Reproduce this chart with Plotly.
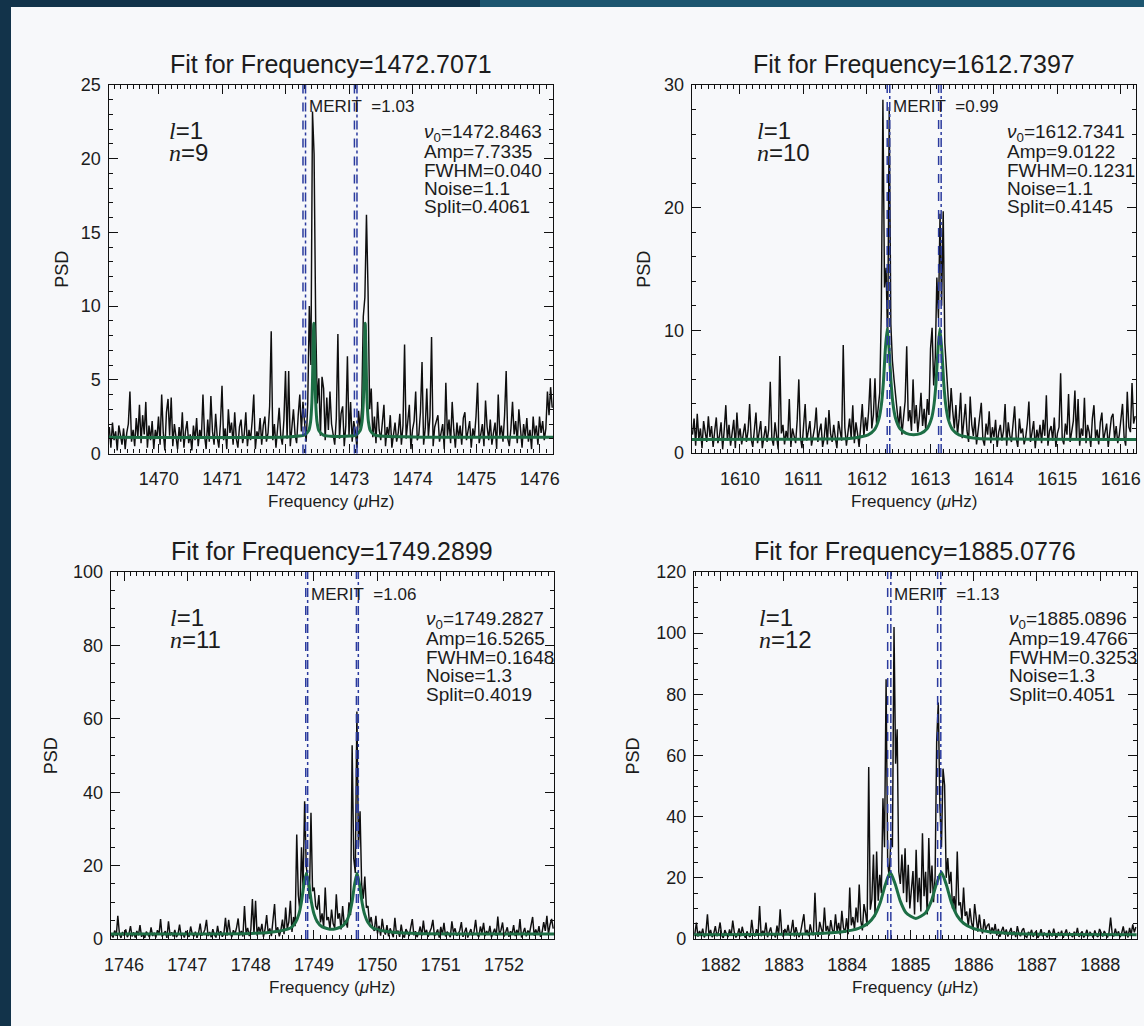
import plotly.graph_objects as go

# ------------------------------------------------------------------ data
title_freqs = [1472.7071, 1612.7397, 1749.2899, 1885.0776]
merit_vals = ["1.03", "0.99", "1.06", "1.13"]
l_degree = [1, 1, 1, 1]
n_order = [9, 10, 11, 12]
nu0_vals = ["1472.8463", "1612.7341", "1749.2827", "1885.0896"]
amp_vals = ["7.7335", "9.0122", "16.5265", "19.4766"]
fwhm_vals = ["0.040", "0.1231", "0.1648", "0.3253"]
noise_vals = ["1.1", "1.1", "1.3", "1.3"]
split_vals = ["0.4061", "0.4145", "0.4019", "0.4051"]
y_max = [25, 30, 100, 120]
y_major = [5, 10, 20, 20]
y_minor = [1, 2, 5, 5]
half_window = 3.5
bin_width = 0.025

psd_1 = [
    1.8, 0.4, 2.1, 0.9, 1.5, 0.2, 1.9, 1.2, 0.6, 1.7, 0.3, 1.4, 2.0, 4.2, 0.8, 1.6, 0.5, 2.4, 1.1, 3.3,
    0.7, 2.6, 1.3, 3.5, 0.4, 1.9, 0.9, 2.2, 0.3, 1.6, 1.0, 2.5, 0.6, 4.0, 1.4, 0.2, 2.8, 3.7, 1.2, 3.8,
    0.5, 2.0, 1.1, 0.3, 1.8, 0.8, 2.8, 0.4, 1.5, 2.2, 0.7, 1.3, 0.2, 1.9, 0.9, 2.4, 0.5, 1.6, 1.0, 4.0,
    1.2, 0.3, 2.3, 0.8, 3.9, 1.5, 0.6, 2.7, 1.1, 0.4, 2.0, 4.6, 0.9, 1.7, 0.3, 3.0, 1.4, 2.1, 0.6, 2.8,
    1.0, 0.4, 1.8, 2.3, 0.7, 1.3, 2.8, 0.5, 1.6, 0.9, 2.2, 4.0, 0.3, 1.5, 1.1, 2.4, 0.6, 1.9, 2.5, 0.8,
    1.4, 3.2, 8.3, 0.9, 2.0, 0.4, 1.7, 3.1, 1.2, 0.6, 2.3, 5.6, 1.0, 5.6, 0.5, 1.8, 3.0, 1.3, 0.7, 2.6,
    4.0, 1.5, 3.5, 2.1, 0.8, 3.3, 10.0, 6.0, 23.2, 20.3, 9.0, 3.4, 5.1, 1.2, 5.2, 4.4, 0.9, 3.8, 1.6, 4.2,
    2.0, 1.3, 0.6, 2.4, 8.1, 1.0, 2.7, 3.2, 0.5, 1.9, 6.6, 1.2, 3.5, 0.8, 2.2, 1.5, 0.4, 2.9, 1.7, 3.1,
    9.3, 10.6, 16.2, 11.0, 3.0, 4.4, 1.1, 2.5, 0.7, 3.5, 1.6, 0.9, 2.3, 3.3, 0.5, 1.8, 1.2, 2.6, 0.4, 1.5,
    2.1, 0.8, 1.4, 2.7, 0.6, 1.9, 7.4, 1.0, 2.4, 3.3, 0.3, 1.6, 2.2, 4.2, 0.9, 1.3, 2.8, 6.2, 0.6, 1.7,
    4.4, 1.1, 2.5, 7.9, 0.5, 1.8, 2.2, 2.6, 0.8, 1.4, 2.0, 0.3, 4.8, 1.2, 2.3, 0.7, 3.5, 1.6, 0.4, 2.1,
    1.0, 1.9, 0.6, 2.4, 2.8, 0.9, 1.5, 2.2, 0.4, 1.7, 1.1, 2.5, 4.8, 0.7, 1.3, 2.0, 0.5, 3.6, 1.8, 0.9,
    2.3, 0.6, 1.4, 2.1, 0.3, 4.0, 1.2, 1.9, 0.8, 2.6, 5.6, 1.0, 0.5, 1.7, 3.5, 1.3, 2.2, 0.7, 3.0, 1.5,
    0.4, 2.0, 1.1, 2.4, 0.8, 1.6, 0.3, 2.5, 1.2, 1.9, 0.6, 2.5, 1.4, 2.2, 0.9, 1.7, 4.2, 2.6, 4.5, 3.1,
]
psd_2 = [
    1.5, 2.8, 0.6, 3.2, 1.1, 2.0, 0.4, 2.6, 1.7, 0.9, 3.0, 1.3, 2.2, 0.5, 1.8, 2.9, 0.8, 1.4, 2.5, 0.3,
    1.9, 3.9, 1.0, 2.3, 0.6, 1.6, 2.7, 0.4, 3.3, 1.2, 2.0, 0.7, 1.5, 2.4, 0.9, 1.8, 4.0, 1.1, 0.5, 2.1,
    3.3, 0.8, 1.7, 2.6, 0.4, 1.3, 2.2, 0.9, 1.9, 5.8, 1.2, 0.6, 2.5, 1.4, 0.3, 7.9, 1.6, 2.3, 0.7, 1.8,
    1.1, 4.4, 0.5, 2.0, 1.5, 0.8, 2.7, 6.0, 1.3, 0.4, 2.2, 4.0, 1.0, 1.7, 2.6, 0.6, 1.4, 2.1, 3.7, 0.9,
    1.8, 2.4, 0.5, 1.2, 2.9, 0.7, 3.5, 1.6, 0.9, 2.3, 1.3, 0.4, 2.6, 1.9, 1.0, 8.8, 2.1, 0.6, 1.5, 2.8,
    1.2, 3.9, 0.8, 2.5, 1.6, 0.5, 2.2, 4.0, 1.3, 2.9, 1.8, 3.4, 6.1, 2.0, 3.1, 6.1, 2.4, 3.6, 4.9, 11.6,
    28.8, 13.5, 15.1, 9.0, 28.2, 10.5, 7.5, 6.0, 4.5, 3.2, 2.1, 3.8, 1.5, 2.9, 4.2, 8.7, 2.6, 3.5, 1.8, 6.0,
    2.4, 3.9, 1.7, 3.0, 4.9, 2.2, 3.6, 1.9, 4.4, 3.1, 8.5, 10.2, 5.5, 7.8, 14.3, 11.0, 19.5, 12.0, 19.7, 9.0,
    6.3, 4.8, 2.7, 5.3, 3.4, 2.0, 3.9, 1.5, 2.8, 4.9, 1.2, 2.5, 4.0, 1.8, 0.9, 4.6, 2.3, 1.4, 2.9, 0.7,
    1.9, 2.6, 4.1, 1.1, 0.6, 2.4, 1.5, 3.4, 0.8, 2.1, 1.3, 2.7, 0.5, 1.7, 2.3, 1.0, 1.8, 4.0, 0.6, 2.5,
    1.4, 0.9, 2.2, 3.8, 1.2, 0.5, 2.8, 1.6, 2.0, 0.7, 1.3, 2.4, 4.2, 0.9, 1.7, 2.6, 0.4, 1.9, 1.1, 2.3,
    0.8, 2.7, 1.4, 4.7, 0.6, 1.8, 2.2, 1.0, 2.9, 0.5, 1.6, 2.1, 6.5, 1.2, 0.7, 2.4, 1.5, 4.8, 0.9, 1.9,
    2.6, 5.1, 1.1, 4.4, 0.6, 2.0, 1.4, 4.5, 0.8, 2.3, 1.7, 0.5, 2.8, 3.9, 1.2, 1.9, 0.7, 2.5, 3.3, 1.0,
    1.6, 2.4, 0.5, 1.8, 2.9, 3.2, 1.1, 2.2, 0.8, 1.5, 2.6, 4.0, 1.3, 0.6, 5.0, 2.1, 1.7, 5.7, 2.4, 3.0,
]
psd_3 = [
    1.2, 0.4, 2.3, 0.8, 6.3, 1.5, 0.3, 1.9, 0.9, 2.6, 0.5, 1.4, 3.5, 0.7, 1.8, 0.4, 2.2, 1.0, 3.8, 0.6,
    1.6, 0.3, 2.0, 1.1, 0.5, 3.2, 0.8, 1.7, 0.4, 2.4, 1.2, 5.4, 0.6, 1.5, 2.1, 0.3, 4.8, 1.0, 1.8, 0.7,
    2.5, 0.5, 1.3, 3.9, 0.8, 1.6, 0.4, 2.2, 1.1, 0.6, 3.4, 1.4, 0.7, 2.0, 0.3, 1.7, 4.2, 0.9, 1.5, 2.6,
    5.2, 0.8, 1.9, 0.5, 2.7, 1.2, 0.4, 3.6, 1.0, 2.1, 0.6, 1.5, 5.8, 0.9, 5.2, 1.8, 0.5, 2.4, 1.3, 3.1,
    5.6, 1.0, 2.2, 0.7, 9.0, 1.6, 3.0, 0.8, 2.5, 10.9, 1.4, 10.4, 0.9, 3.3, 1.8, 4.1, 0.6, 2.7, 6.5, 1.5,
    2.9, 0.8, 4.4, 9.5, 1.7, 3.2, 0.7, 2.4, 5.3, 1.3, 8.6, 2.8, 4.6, 10.4, 1.9, 6.0, 3.5, 28.5, 12.0, 7.5,
    25.0, 14.0, 37.5, 20.0, 16.0, 11.0, 34.4, 13.0, 14.0, 9.0, 8.0, 12.0, 4.5, 7.0, 3.2, 14.0, 5.1, 6.0, 2.8, 8.0,
    4.2, 3.0, 12.2, 5.5, 7.0, 2.6, 9.0, 4.0, 5.0, 3.1, 10.0, 6.5, 52.8, 22.0, 18.0, 62.0, 25.0, 34.8, 15.0, 11.0,
    17.0, 8.5, 9.0, 4.2, 6.0, 3.0, 2.2, 6.3, 1.5, 3.6, 0.9, 5.5, 2.4, 1.2, 3.8, 0.7, 2.9, 1.6, 0.5, 5.8,
    1.4, 2.3, 0.6, 3.9, 1.1, 0.4, 2.7, 1.8, 0.8, 3.2, 5.4, 1.0, 2.1, 0.5, 1.6, 3.4, 0.9, 5.0, 1.3, 2.5,
    0.6, 1.9, 3.0, 5.2, 0.8, 1.5, 2.6, 0.4, 3.3, 1.2, 4.4, 0.7, 2.0, 1.4, 0.5, 4.8, 1.7, 2.9, 0.9, 1.3,
    2.4, 4.6, 0.6, 1.8, 3.1, 0.4, 1.5, 2.7, 0.9, 2.0, 5.2, 1.2, 0.5, 3.4, 1.6, 4.4, 0.8, 2.2, 1.1, 3.6,
    0.5, 1.7, 2.8, 0.9, 6.1, 1.3, 2.4, 4.5, 0.7, 1.9, 3.2, 0.6, 2.1, 1.4, 3.8, 0.8, 2.5, 1.1, 5.4, 0.4,
    1.8, 3.0, 0.7, 2.3, 1.5, 4.1, 6.0, 0.9, 2.6, 1.2, 3.5, 0.6, 1.9, 4.6, 2.2, 6.3, 1.3, 3.9, 5.5, 2.8,
]
psd_4 = [
    1.5, 5.4, 0.8, 2.6, 1.2, 3.4, 0.5, 2.0, 8.1, 1.1, 3.0, 0.6, 1.8, 4.2, 0.9, 2.4, 5.4, 1.3, 0.4, 2.9,
    1.7, 0.6, 3.1, 1.0, 6.0, 2.2, 0.5, 1.4, 3.5, 0.9, 4.0, 1.6, 0.4, 2.5, 1.2, 0.7, 6.3, 1.9, 0.8, 3.2,
    1.4, 10.8, 0.9, 2.7, 1.5, 5.4, 0.6, 2.2, 3.8, 1.0, 1.8, 0.5, 4.4, 1.3, 9.7, 2.0, 0.7, 3.3, 1.6, 4.6,
    1.1, 2.6, 6.3, 0.8, 3.9, 1.7, 0.6, 2.4, 5.0, 8.1, 1.4, 3.0, 0.9, 4.8, 2.1, 1.2, 15.1, 2.9, 0.7, 5.6,
    3.4, 1.5, 10.3, 2.6, 4.3, 1.1, 6.2, 3.0, 1.8, 8.1, 2.4, 5.3, 1.3, 9.2, 3.7, 2.0, 6.8, 1.6, 16.8, 4.5,
    7.2, 3.1, 10.3, 5.4, 17.8, 6.0, 2.8, 11.4, 8.5, 4.2, 56.2, 9.6, 13.0, 27.6, 7.4, 28.6, 12.5, 21.0, 15.0, 46.0,
    30.0, 84.9, 25.0, 20.0, 33.0, 30.0, 102.0, 57.3, 68.6, 22.0, 18.0, 27.6, 15.0, 29.7, 12.0, 24.3, 10.0, 18.0, 22.2, 8.0,
    29.2, 12.0, 20.0, 9.0, 34.6, 14.0, 22.0, 8.0, 33.0, 15.0, 24.0, 12.0, 20.5, 64.9, 77.3, 43.8, 30.0, 55.7, 50.3, 20.0,
    26.5, 18.0, 22.0, 10.0, 14.0, 8.5, 28.6, 11.0, 12.0, 6.0, 16.8, 7.5, 9.0, 4.2, 10.0, 5.5, 3.0, 11.4, 6.2, 2.4,
    8.0, 3.5, 1.8, 6.5, 2.9, 4.4, 5.0, 1.6, 3.8, 2.2, 4.9, 1.1, 3.3, 0.7, 2.6, 4.0, 1.4, 3.1, 0.8, 2.0,
    3.6, 1.2, 2.5, 0.6, 4.2, 1.8, 0.9, 2.8, 3.5, 1.0, 0.5, 2.3, 1.5, 3.0, 0.7, 1.9, 2.6, 0.4, 1.3, 3.2,
    0.9, 2.1, 1.4, 0.5, 2.9, 1.7, 0.8, 3.4, 1.2, 0.6, 2.3, 1.0, 2.7, 0.4, 1.6, 3.1, 0.9, 2.0, 1.3, 0.6,
    2.4, 1.1, 3.6, 0.7, 1.8, 2.5, 0.5, 1.4, 3.0, 0.9, 2.2, 1.6, 0.4, 2.8, 1.2, 0.7, 3.3, 1.9, 0.8, 2.6,
    1.3, 0.5, 2.1, 7.0, 1.7, 0.9, 3.4, 1.2, 2.5, 0.6, 1.9, 4.1, 1.0, 2.7, 0.5, 3.6, 1.4, 4.8, 2.2, 3.9,
]

fit_f_1 = [1469.21, 1472.0, 1472.29, 1472.36, 1472.39, 1472.41, 1472.42, 1472.43, 1472.44, 1472.45,
           1472.46, 1472.47, 1472.49, 1472.52, 1472.59, 1472.85, 1473.10, 1473.17, 1473.20, 1473.22,
           1473.23, 1473.24, 1473.25, 1473.26, 1473.27, 1473.28, 1473.30, 1473.33, 1473.40, 1474.0, 1476.21]
fit_p_1 = [1.1, 1.12, 1.24, 1.55, 2.17, 3.48, 4.97, 7.28, 8.83, 7.28,
           4.97, 3.48, 2.17, 1.55, 1.24, 1.15, 1.24, 1.55, 2.17, 3.48,
           4.97, 7.28, 8.83, 7.28, 4.97, 3.48, 2.17, 1.55, 1.24, 1.12, 1.1]
fit_f_2 = [1609.24, 1611.0, 1611.72, 1612.02, 1612.12, 1612.19, 1612.23, 1612.26, 1612.29, 1612.32,
           1612.35, 1612.38, 1612.41, 1612.45, 1612.52, 1612.62, 1612.735, 1612.85, 1612.95, 1613.02,
           1613.06, 1613.09, 1613.12, 1613.15, 1613.18, 1613.21, 1613.24, 1613.28, 1613.35, 1613.45,
           1613.75, 1614.5, 1616.24]
fit_p_2 = [1.11, 1.13, 1.19, 1.48, 1.90, 2.78, 4.0, 5.75, 8.42, 10.15,
           8.45, 5.8, 4.05, 2.85, 2.0, 1.6, 1.49, 1.6, 2.0, 2.85,
           4.05, 5.8, 8.45, 10.15, 8.42, 5.75, 4.0, 2.78, 1.90, 1.48,
           1.19, 1.13, 1.11]
fit_f_3 = [1745.79, 1747.0, 1747.88, 1748.28, 1748.63, 1748.71, 1748.76, 1748.80, 1748.84, 1748.88,
           1748.92, 1748.96, 1749.00, 1749.05, 1749.13, 1749.28, 1749.43, 1749.51, 1749.56, 1749.60,
           1749.64, 1749.68, 1749.72, 1749.76, 1749.80, 1749.85, 1749.93, 1750.28, 1750.68, 1751.6, 1752.79]
fit_p_3 = [1.33, 1.37, 1.45, 1.75, 3.0, 4.55, 6.7, 9.9, 14.75, 18.0,
           14.8, 10.0, 6.85, 4.75, 3.3, 2.64, 3.3, 4.75, 6.85, 10.0,
           14.8, 18.0, 14.75, 9.9, 6.7, 4.55, 3.0, 1.75, 1.45, 1.37, 1.33]
fit_f_4 = [1881.58, 1882.6, 1883.48, 1883.93, 1884.18, 1884.33, 1884.43, 1884.52, 1884.60, 1884.68,
           1884.76, 1884.84, 1884.93, 1885.085, 1885.24, 1885.33, 1885.41, 1885.49, 1885.57, 1885.65,
           1885.74, 1885.84, 1885.99, 1886.24, 1886.69, 1887.49, 1888.58]
fit_p_4 = [1.38, 1.5, 1.75, 2.39, 3.47, 5.16, 7.56, 11.75, 17.6, 21.8,
           17.9, 12.4, 8.6, 6.73, 8.6, 12.4, 17.9, 21.8, 17.6, 11.75,
           7.56, 5.16, 3.47, 2.39, 1.75, 1.5, 1.38]

guide_1 = [1472.27, 1472.31, 1473.08, 1473.12]
guide_2 = [1612.32, 1612.36, 1613.13, 1613.17]
guide_3 = [1748.87, 1748.90, 1749.67, 1749.70]
guide_4 = [1884.64, 1884.69, 1885.43, 1885.48]

psd_all = [psd_1, psd_2, psd_3, psd_4]
fit_f_all = [fit_f_1, fit_f_2, fit_f_3, fit_f_4]
fit_p_all = [fit_p_1, fit_p_2, fit_p_3, fit_p_4]
guide_all = [guide_1, guide_2, guide_3, guide_4]

# ------------------------------------------------------------------ layout geometry (pixels)
W, H = 1144, 1026
boxes = [(108.5, 553.0, 85.0, 453.5),
         (691.7, 1136.0, 85.0, 453.0),
         (110.7, 554.0, 572.0, 939.0),
         (694.0, 1136.7, 572.0, 939.0)]
psd_offset = [46, 48, 60, 62]
ln_offset = [58, 63, 57, 63]

FONT = "Liberation Sans"
TXT = "#1c1c1c"
GREEN = "#1d6e45"
BLUE = "#2b3b9e"


def fx(px):
    return px / W


def fy(py):
    return 1 - py / H


fig = go.Figure()
annotations = []
shapes = [
    dict(type="rect", xref="paper", yref="paper", x0=fx(480), x1=1.0, y0=fy(7), y1=1.0,
         fillcolor="#1d5670", line=dict(width=0), layer="below"),
    dict(type="rect", xref="paper", yref="paper", x0=fx(11), x1=1.0, y0=0.0, y1=fy(7),
         fillcolor="#f7f8fa", line=dict(width=0), layer="below"),
]
layout = {}

for k in range(4):
    sfx = "" if k == 0 else str(k + 1)
    xa, ya = "x" + sfx, "y" + sfx
    left, right, top, bottom = boxes[k]
    c = title_freqs[k]
    lo, hi = c - half_window, c + half_window

    fig.add_trace(go.Scatter(
        y=psd_all[k], x0=lo + bin_width / 2, dx=bin_width, mode="lines",
        line=dict(color="#0e0e0e", width=1.45), xaxis=xa, yaxis=ya, hoverinfo="skip"))
    fig.add_trace(go.Scatter(
        x=fit_f_all[k], y=fit_p_all[k], mode="lines",
        line=dict(color=GREEN, width=3, shape="spline", smoothing=0.6),
        xaxis=xa, yaxis=ya, hoverinfo="skip"))

    for j, g in enumerate(guide_all[k]):
        shapes.append(dict(type="line", xref=xa, yref=ya + " domain", x0=g, x1=g, y0=0, y1=1,
                           line=dict(color=BLUE, width=1.5, dash="dash" if j % 2 == 0 else "dashdot"),
                           layer="above"))

    common = dict(showline=True, linecolor="#111111", linewidth=1.2, mirror="allticks",
                  ticks="inside", ticklen=9, tickwidth=1, tickcolor="#111111",
                  showgrid=False, zeroline=False, automargin=False,
                  tickfont=dict(family=FONT, size=18, color=TXT))
    layout["xaxis" + sfx] = dict(
        common, domain=[fx(left), fx(right)], anchor=ya, range=[lo, hi],
        tick0=0, dtick=1, ticklabelstandoff=9,
        minor=dict(dtick=0.1, tick0=0, ticks="inside", ticklen=4, tickcolor="#111111", showgrid=False))
    layout["yaxis" + sfx] = dict(
        common, domain=[fy(bottom), fy(top)], anchor=xa, range=[0, y_max[k]],
        tick0=0, dtick=y_major[k], ticklabelstandoff=3,
        minor=dict(dtick=y_minor[k], tick0=0, ticks="inside", ticklen=4, tickcolor="#111111", showgrid=False))

    cx = (left + right) / 2
    annotations.append(dict(text="Fit for Frequency=%.4f" % c, x=fx(cx), y=fy(top - 21),
                            xanchor="center", font=dict(family=FONT, size=25, color=TXT)))
    annotations.append(dict(text="Frequency (<i>μ</i>Hz)", x=fx(cx), y=fy(bottom + 48),
                            xanchor="center", font=dict(family=FONT, size=17, color=TXT)))
    annotations.append(dict(text="PSD", textangle=-90, x=fx(left - psd_offset[k]),
                            y=fy((top + bottom) / 2), xanchor="center",
                            font=dict(family=FONT, size=18, color=TXT)))
    gx = left + (guide_all[k][1] - lo) / (hi - lo) * (right - left)
    annotations.append(dict(text="MERIT\u00a0 =" + merit_vals[k], x=fx(gx + 1), y=fy(top + 22),
                            xanchor="left", font=dict(family=FONT, size=17, color=TXT)))
    annotations.append(dict(text="<i style='font-family:Liberation Serif'>l</i>=%d" % l_degree[k],
                            x=fx(left + ln_offset[k]), y=fy(top + 45), xanchor="left",
                            font=dict(family=FONT, size=24, color=TXT)))
    annotations.append(dict(text="<i style='font-family:Liberation Serif'>n</i>=%d" % n_order[k],
                            x=fx(left + ln_offset[k]), y=fy(top + 67), xanchor="left",
                            font=dict(family=FONT, size=24, color=TXT)))
    lines = ["<i>ν</i><sub>0</sub>=" + nu0_vals[k], "Amp=" + amp_vals[k], "FWHM=" + fwhm_vals[k],
             "Noise=" + noise_vals[k], "Split=" + split_vals[k]]
    for j, t in enumerate(lines):
        annotations.append(dict(text=t, x=fx(left + 314), y=fy(top + 48 + 18.5 * j), xanchor="left",
                                borderpad=0, font=dict(family=FONT, size=19, color=TXT)))

for a in annotations:
    a.update(xref="paper", yref="paper", showarrow=False, yanchor="middle")

fig.update_layout(
    width=W, height=H, margin=dict(l=0, r=0, t=0, b=0, pad=0, autoexpand=False),
    paper_bgcolor="#12334a", plot_bgcolor="rgba(0,0,0,0)",
    showlegend=False, annotations=annotations, shapes=shapes, **layout)

fig.write_html("out.html")
